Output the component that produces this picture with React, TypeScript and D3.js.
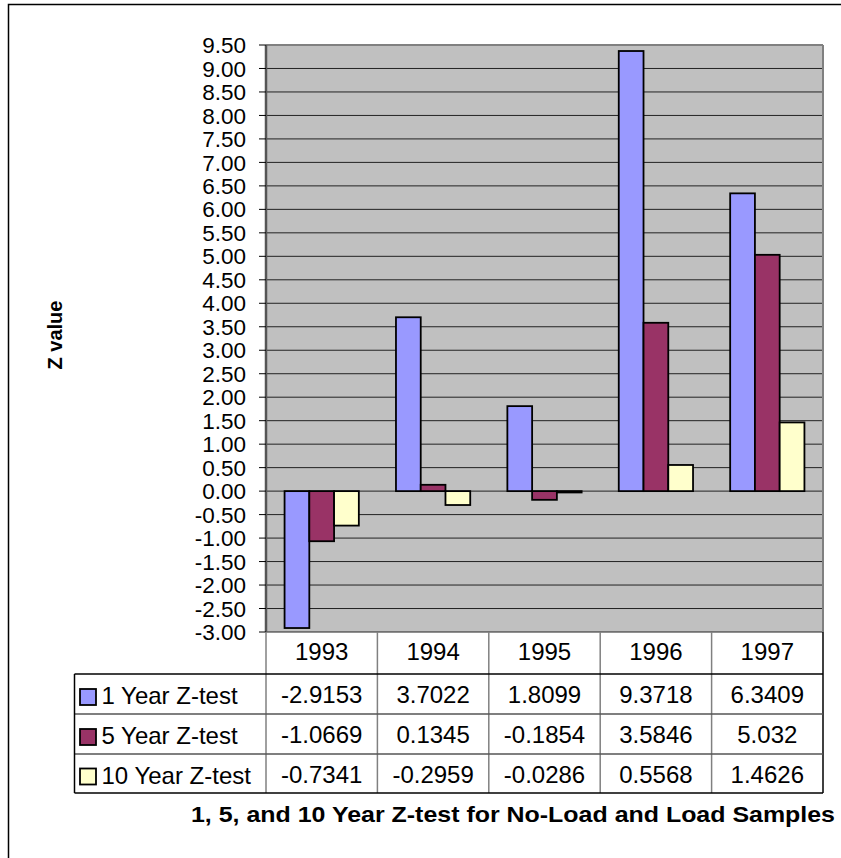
import React from "react";
import * as d3 from "d3";

const years = ["1993", "1994", "1995", "1996", "1997"];
const seriesNames = ["1 Year Z-test", "5 Year Z-test", "10 Year Z-test"];
const oneYear = [-2.9153, 3.7022, 1.8099, 9.3718, 6.3409];
const fiveYear = [-1.0669, 0.1345, -0.1854, 3.5846, 5.032];
const tenYear = [-0.7341, -0.2959, -0.0286, 0.5568, 1.4626];
const tableText = [
  ["-2.9153", "3.7022", "1.8099", "9.3718", "6.3409"],
  ["-1.0669", "0.1345", "-0.1854", "3.5846", "5.032"],
  ["-0.7341", "-0.2959", "-0.0286", "0.5568", "1.4626"],
];
const colors = ["#9999FF", "#993366", "#FFFFCC"];
const yTicks = d3.range(-3, 9.5001, 0.5);
const chartTitle = "1, 5, and 10 Year Z-test for No-Load and Load Samples";
const axisTitle = "Z value";

const fmt = (t: number) => d3.format(".2f")(t).replace("\u2212", "-");

export default function App() {
  const W = 841, H = 858;
  const left = 266, right = 823, top = 45, bottom = 632;
  const rowH = [632, 674, 714, 754, 793];
  const tableLeft = 74.5;
  const font = "'Liberation Sans', Arial, sans-serif";

  const x = d3.scaleBand<string>().domain(years).range([left, right]);
  const groupPad = (x.bandwidth() / 4.5) * 0.75;
  const xs = d3
    .scaleBand<string>()
    .domain(seriesNames)
    .range([groupPad, x.bandwidth() - groupPad]);
  const y = d3.scaleLinear().domain([-3, 9.5]).range([bottom, top]);
  const series = [oneYear, fiveYear, tenYear];
  const rowMid = (r: number) => (rowH[r] + rowH[r + 1]) / 2;

  return (
    <svg width={W} height={H} style={{ position: "absolute", left: 0, top: 0 }} fontFamily={font}>
      <rect x={0} y={0} width={W} height={H} fill="white" />
      <rect x={8.5} y={4.5} width={845} height={870} fill="white" stroke="black" strokeWidth={1.5} />

      {/* plot area */}
      <rect x={left} y={top} width={right - left} height={bottom - top} fill="#C0C0C0" />
      {yTicks.map((t) => (
        <line key={"g" + t} x1={left} x2={right} y1={y(t)} y2={y(t)} stroke="#222" strokeWidth={1} />
      ))}
      <line x1={left} x2={right} y1={top} y2={top} stroke="#808080" strokeWidth={2} />
      <line x1={right} x2={right} y1={top} y2={bottom} stroke="#808080" strokeWidth={2} />

      {/* bars */}
      {series.map((vals, si) =>
        vals.map((v, i) => {
          const bx = (x(years[i]) as number) + (xs(seriesNames[si]) as number);
          const y0 = y(0), y1 = y(v);
          return (
            <rect
              key={si + "-" + i}
              x={bx}
              y={Math.min(y0, y1)}
              width={xs.bandwidth()}
              height={Math.abs(y1 - y0)}
              fill={colors[si]}
              stroke="black"
              strokeWidth={1.8}
            />
          );
        })
      )}

      {/* y axis */}
      <line x1={left} x2={left} y1={top} y2={bottom} stroke="#555" strokeWidth={2.5} />
      {yTicks.map((t) => (
        <g key={"t" + t}>
          <line x1={left - 7} x2={left} y1={y(t)} y2={y(t)} stroke="black" strokeWidth={1} />
          <text x={left - 20} y={y(t)} dy="0.36em" textAnchor="end" fontSize={22.5} fill="black">
            {fmt(t)}
          </text>
        </g>
      ))}
      <text
        transform={`translate(62,335) rotate(-90)`}
        textAnchor="middle"
        fontSize={20}
        fontWeight="bold"
      >
        {axisTitle}
      </text>

      {/* data table */}
      <line x1={left} x2={left} y1={bottom} y2={rowH[4]} stroke="#808080" strokeWidth={1.5} />
      {years.map((yr, i) => (
        <line
          key={"v" + yr}
          x1={(x(yr) as number) + x.bandwidth()}
          x2={(x(yr) as number) + x.bandwidth()}
          y1={bottom}
          y2={rowH[4]}
          stroke={i === years.length - 1 ? "black" : "#808080"}
          strokeWidth={1.5}
        />
      ))}
      {[1, 2, 3].map((r) => (
        <line
          key={"h" + r}
          x1={tableLeft}
          x2={right}
          y1={rowH[r]}
          y2={rowH[r]}
          stroke={r === 1 ? "black" : "#555"}
          strokeWidth={1.5}
        />
      ))}
      <line x1={tableLeft} x2={right} y1={rowH[4]} y2={rowH[4]} stroke="black" strokeWidth={1.5} />
      <line x1={tableLeft} x2={tableLeft} y1={rowH[1]} y2={rowH[4]} stroke="black" strokeWidth={1.5} />

      {years.map((yr) => (
        <text
          key={"c" + yr}
          x={(x(yr) as number) + x.bandwidth() / 2}
          y={rowMid(0) + 7}
          textAnchor="middle"
          fontSize={24}
        >
          {yr}
        </text>
      ))}
      {tableText.map((row, r) => (
        <g key={"r" + r}>
          <rect
            x={80}
            y={rowMid(r + 1) - 5}
            width={16}
            height={16}
            fill={colors[r]}
            stroke="black"
            strokeWidth={1.8}
          />
          <text x={101.5} y={rowMid(r + 1) + 10} fontSize={24}>
            {seriesNames[r]}
          </text>
          {row.map((s, i) => (
            <text
              key={s + i}
              x={(x(years[i]) as number) + x.bandwidth() / 2}
              y={rowMid(r + 1) + 9}
              textAnchor="middle"
              fontSize={24}
            >
              {s}
            </text>
          ))}
        </g>
      ))}

      <text
        x={191}
        y={822}
        fontSize={21.5}
        fontWeight="bold"
        textLength={644}
        lengthAdjust="spacingAndGlyphs"
      >
        {chartTitle}
      </text>
    </svg>
  );
}
